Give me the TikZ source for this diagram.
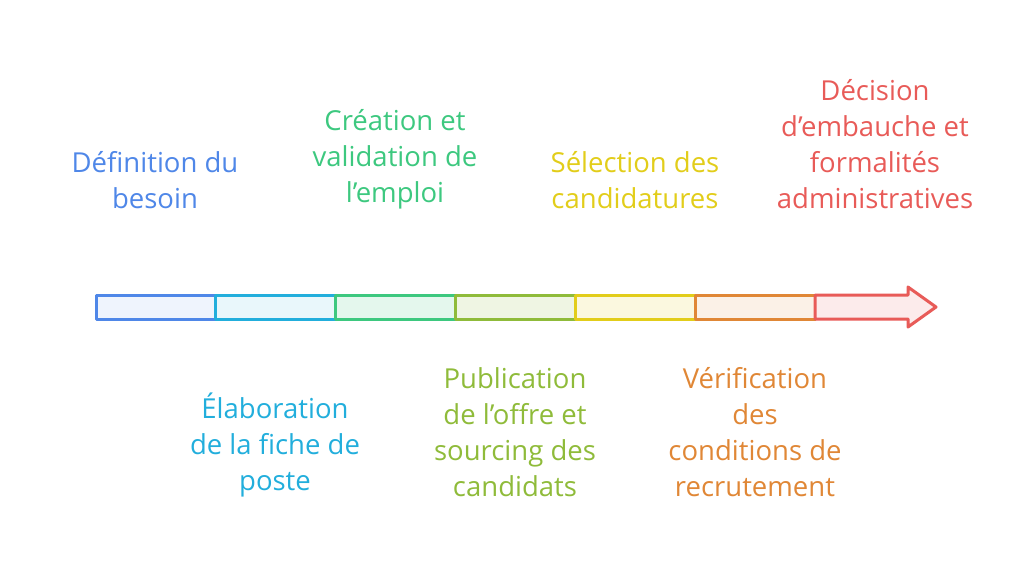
\documentclass[tikz,border=0pt]{standalone}
\usepackage{fontspec}
\setmainfont{Open Sans}
\definecolor{besoin}{HTML}{4F87E8}
\definecolor{fiche}{HTML}{22AEDC}
\definecolor{emploi}{HTML}{3DC87F}
\definecolor{offre}{HTML}{8FBB3A}
\definecolor{selection}{HTML}{E2CD1A}
\definecolor{conditions}{HTML}{E08736}
\definecolor{decision}{HTML}{E85B58}
\tikzset{
  steptext/.style={font=\fontsize{27.5}{36}\selectfont, align=center, inner sep=0pt, anchor=base},
  segment/.style={line width=3pt, line join=round}
}

\begin{document}
\begin{tikzpicture}[x=1pt,y=-1pt]
                    \useasboundingbox (0,0) rectangle (1032,586);
                    % bande du processus
                    \filldraw [segment,draw=besoin,fill=besoin!9] (96,295) rectangle (215,319);
                    \filldraw [segment,draw=fiche,fill=fiche!10] (215,295) rectangle (335,319);
                    \filldraw [segment,draw=emploi,fill=emploi!14] (335,295) rectangle (455,319);
                    \filldraw [segment,draw=offre,fill=offre!14] (455,295) rectangle (575,319);
                    \filldraw [segment,draw=selection,fill=selection!14] (575,295) rectangle (695,319);
                    \filldraw [segment,draw=conditions,fill=conditions!12] (695,295) rectangle (815,319);
                    \filldraw [segment,draw=decision,fill=decision!12] (815,295) -- (908,295) -- (908,287)
                        -- (936,307) -- (908,327) -- (908,319) -- (815,319) -- cycle;
                    % etapes
                    \node [steptext,text=besoin] (besoin) at (155,208) {Définition du\\besoin};
                    \node [steptext,text=fiche] (fiche) at (275,490) {Élaboration\\de la fiche de\\poste};
                    \node [steptext,text=emploi] (emploi) at (395,202) {Création et\\validation de\\l’emploi};
                    \node [steptext,text=offre] (offre) at (515,496) {Publication\\de l’offre et\\sourcing des\\candidats};
                    \node [steptext,text=selection] (selection) at (635,208) {Sélection des\\candidatures};
                    \node [steptext,text=conditions] (conditions) at (755,496) {Vérification\\des\\conditions de\\recrutement};
                    \node [steptext,text=decision] (decision) at (875,208) {Décision\\d’embauche et\\formalités\\administratives};
                \end{tikzpicture}
\end{document}
